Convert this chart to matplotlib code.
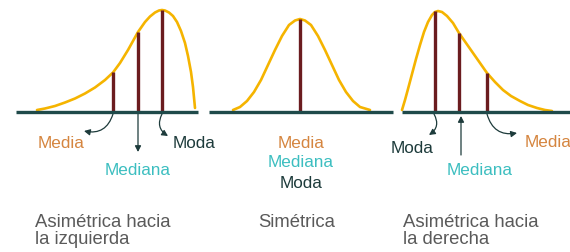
import matplotlib.pyplot as plt

plt.rcParams['font.family'] = ['Liberation Sans', 'DejaVu Sans']

# --- Data (pixel coordinates, y grows downward)
base_y = 112
baselines = [(16, 198), (209, 393), (402, 570)]

left_x = [37, 45, 55, 65, 75, 85, 95, 105, 113, 120, 128, 138, 145, 150, 155, 159, 162,
          165, 169, 173, 177, 181, 185, 188, 191, 193, 195]
left_y = [110, 108.5, 106, 102.5, 98.5, 93.5, 87.5, 80, 72.5, 63, 50, 32, 22, 16.5, 12.5, 10.5, 10,
          10.5, 12.5, 16, 22, 31, 43, 56, 72, 87, 108]

mid_x = [233, 240, 247, 254, 261, 268, 275, 282, 289, 295, 300, 305, 311, 318, 325, 332, 339,
         346, 353, 360, 370]
mid_y = [110, 107, 101, 92, 80, 65, 50, 36, 25, 20.5, 19, 20.5, 25, 36, 50, 65, 80,
         92, 101, 107, 110]

right_x = [402, 405, 408, 412, 416, 420, 424, 428, 432, 435, 438, 442, 447, 453, 459, 466, 473,
           480, 487, 495, 503, 511, 520, 528, 537, 545, 552]
right_y = [110, 100, 89, 74, 59, 45, 32, 22, 15, 12, 11, 12, 16, 23, 33, 43, 53,
           63, 73, 82, 90, 96, 101, 105, 108, 110, 111]

bar_x = [113, 138, 162, 300, 435, 459, 487]
bar_top = [72, 32, 10, 19, 11, 33, 73]

titles = ["Asimétrica hacia\nla izquierda", "Simétrica", "Asimétrica hacia\nla derecha"]
title_x = [35, 258, 403]

c_curve = "#F5B400"
c_bar = "#6B1C1F"
c_base = "#1F4A4A"
c_media = "#D5853F"
c_mediana = "#3CBEC0"
c_moda = "#1D3B3B"
c_title = "#5A5A5A"

fig = plt.figure(figsize=(5.7, 2.52), dpi=100)
ax = fig.add_axes([0, 0, 1, 1])
ax.set_xlim(0, 570)
ax.set_ylim(252, 0)
ax.axis("off")

# curves
for xs, ys in [(left_x, left_y), (mid_x, mid_y), (right_x, right_y)]:
    ax.plot(xs, ys, color=c_curve, lw=1.9, solid_capstyle="round",
            solid_joinstyle="round", zorder=2)

# bars
ax.vlines(bar_x, base_y, bar_top, color=c_bar, lw=2.4, zorder=3)

# baselines
for x0, x1 in baselines:
    ax.plot([x0, x1], [base_y, base_y], color=c_base, lw=2.4, solid_capstyle="butt", zorder=4)

fs = 12.3

def arrow(x0, y0, x1, y1, rad):
    ax.annotate("", xy=(x1, y1), xytext=(x0, y0),
                arrowprops=dict(arrowstyle="-|>,head_length=0.35,head_width=0.18",
                                color=c_moda, lw=0.9,
                                connectionstyle=f"arc3,rad={rad}",
                                shrinkA=0, shrinkB=0))

# left panel labels
arrow(113, 114, 84, 131, -0.45)
arrow(138, 114, 138, 152, 0)
arrow(162, 114, 168, 136, 0.45)
ax.text(61, 148, "Media", color=c_media, fontsize=fs, ha="center", va="baseline")
ax.text(138, 175, "Mediana", color=c_mediana, fontsize=fs, ha="center", va="baseline")
ax.text(173, 148, "Moda", color=c_moda, fontsize=fs, ha="left", va="baseline")

# middle panel labels
ax.text(301, 148, "Media", color=c_media, fontsize=fs, ha="center", va="baseline")
ax.text(301, 167, "Mediana", color=c_mediana, fontsize=fs, ha="center", va="baseline")
ax.text(301, 188, "Moda", color=c_moda, fontsize=fs, ha="center", va="baseline")

# right panel labels
arrow(434, 114, 429, 135, -0.45)
arrow(461, 155, 461, 116, 0)
arrow(487, 114, 517, 133, 0.45)
ax.text(412, 153, "Moda", color=c_moda, fontsize=fs, ha="center", va="baseline")
ax.text(480, 175, "Mediana", color=c_mediana, fontsize=fs, ha="center", va="baseline")
ax.text(525, 147, "Media", color=c_media, fontsize=fs, ha="left", va="baseline")

# bottom captions
for t, x in zip(titles, title_x):
    ax.text(x, 214, t, color=c_title, fontsize=13.3, ha="left", va="top", linespacing=1.0)

fig.savefig("out.png", dpi=100, facecolor="white")
